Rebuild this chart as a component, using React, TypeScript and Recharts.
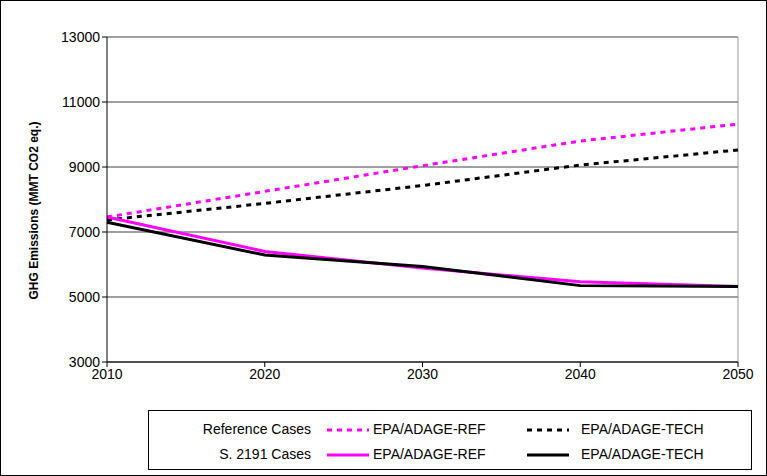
import { LineChart, Line, XAxis, YAxis, CartesianGrid, ReferenceLine } from 'recharts';

const years = [2010, 2020, 2030, 2040, 2050];
const refRef = [7460, 8250, 9040, 9800, 10320];
const refTech = [7370, 7880, 8430, 9060, 9525];
const s2191Ref = [7460, 6400, 5890, 5470, 5320];
const s2191Tech = [7300, 6290, 5940, 5350, 5320];
const yTicks = [3000, 5000, 7000, 9000, 11000, 13000];

const data = years.map((year, i) => ({
  year,
  refRef: refRef[i],
  refTech: refTech[i],
  sRef: s2191Ref[i],
  sTech: s2191Tech[i],
}));

const font = '"Liberation Sans", Arial, sans-serif';

function Sample({ color, dashed }: { color: string; dashed?: boolean }) {
  return (
    <svg width={46} height={8} style={{ verticalAlign: 'middle' }}>
      <line x1={2} y1={4} x2={44} y2={4} stroke={color} strokeWidth={3}
        strokeDasharray={dashed ? '5 5' : undefined} />
    </svg>
  );
}

export default function App() {
  const row = (label: string, dashed: boolean, top: number) => (
    <div style={{ position: 'absolute', left: 0, top, width: 604, height: 20, fontSize: 14 }}>
      <span style={{ position: 'absolute', right: 442, top: 0 }}>{label}</span>
      <span style={{ position: 'absolute', left: 176, top: 0 }}><Sample color="#ff00ff" dashed={dashed} /></span>
      <span style={{ position: 'absolute', left: 224, top: 0 }}>EPA/ADAGE-REF</span>
      <span style={{ position: 'absolute', left: 376, top: 0 }}><Sample color="#000" dashed={dashed} /></span>
      <span style={{ position: 'absolute', left: 432, top: 0 }}>EPA/ADAGE-TECH</span>
    </div>
  );
  return (
    <div style={{ position: 'fixed', left: 0, top: 0, width: 767, height: 476, fontFamily: font, background: '#fff' }}>
      <LineChart width={767} height={476} data={data}
        margin={{ top: 37, right: 29, left: 47, bottom: 84 }}>
        <CartesianGrid vertical={false} stroke="#808080" strokeWidth={1.5} />
        <XAxis dataKey="year" type="number" domain={[2010, 2050]} ticks={years}
          stroke="#000" tick={{ fill: '#000', fontSize: 14, fontFamily: font }} tickSize={5} height={30} />
        <YAxis domain={[3000, 13000]} ticks={yTicks} width={60} stroke="#000"
          tick={{ fill: '#000', fontSize: 14, fontFamily: font }} tickSize={5}
          label={{ value: 'GHG Emissions (MMT CO2 eq.)', angle: -90, position: 'insideLeft', dx: -18, dy: 100,
            style: { fontSize: 12, fontWeight: 'bold', fill: '#000', fontFamily: font } }} />
        <ReferenceLine x={2050} stroke="#999" />
        <Line dataKey="refRef" stroke="#ff00ff" strokeWidth={3} strokeDasharray="5 5" dot={false} isAnimationActive={false} />
        <Line dataKey="refTech" stroke="#000" strokeWidth={3} strokeDasharray="5 5" dot={false} isAnimationActive={false} />
        <Line dataKey="sRef" stroke="#ff00ff" strokeWidth={3} dot={false} isAnimationActive={false} />
        <Line dataKey="sTech" stroke="#000" strokeWidth={3} dot={false} isAnimationActive={false} />
      </LineChart>
      <div style={{ position: 'absolute', left: 148, top: 410, width: 602, height: 58, border: '1px solid #000' }}>
        {row('Reference Cases', true, 10)}
        {row('S. 2191 Cases', false, 35)}
      </div>
      <div style={{ position: 'absolute', left: 0, top: 0, width: 765, height: 474, border: '1px solid #000', pointerEvents: 'none' }} />
    </div>
  );
}
